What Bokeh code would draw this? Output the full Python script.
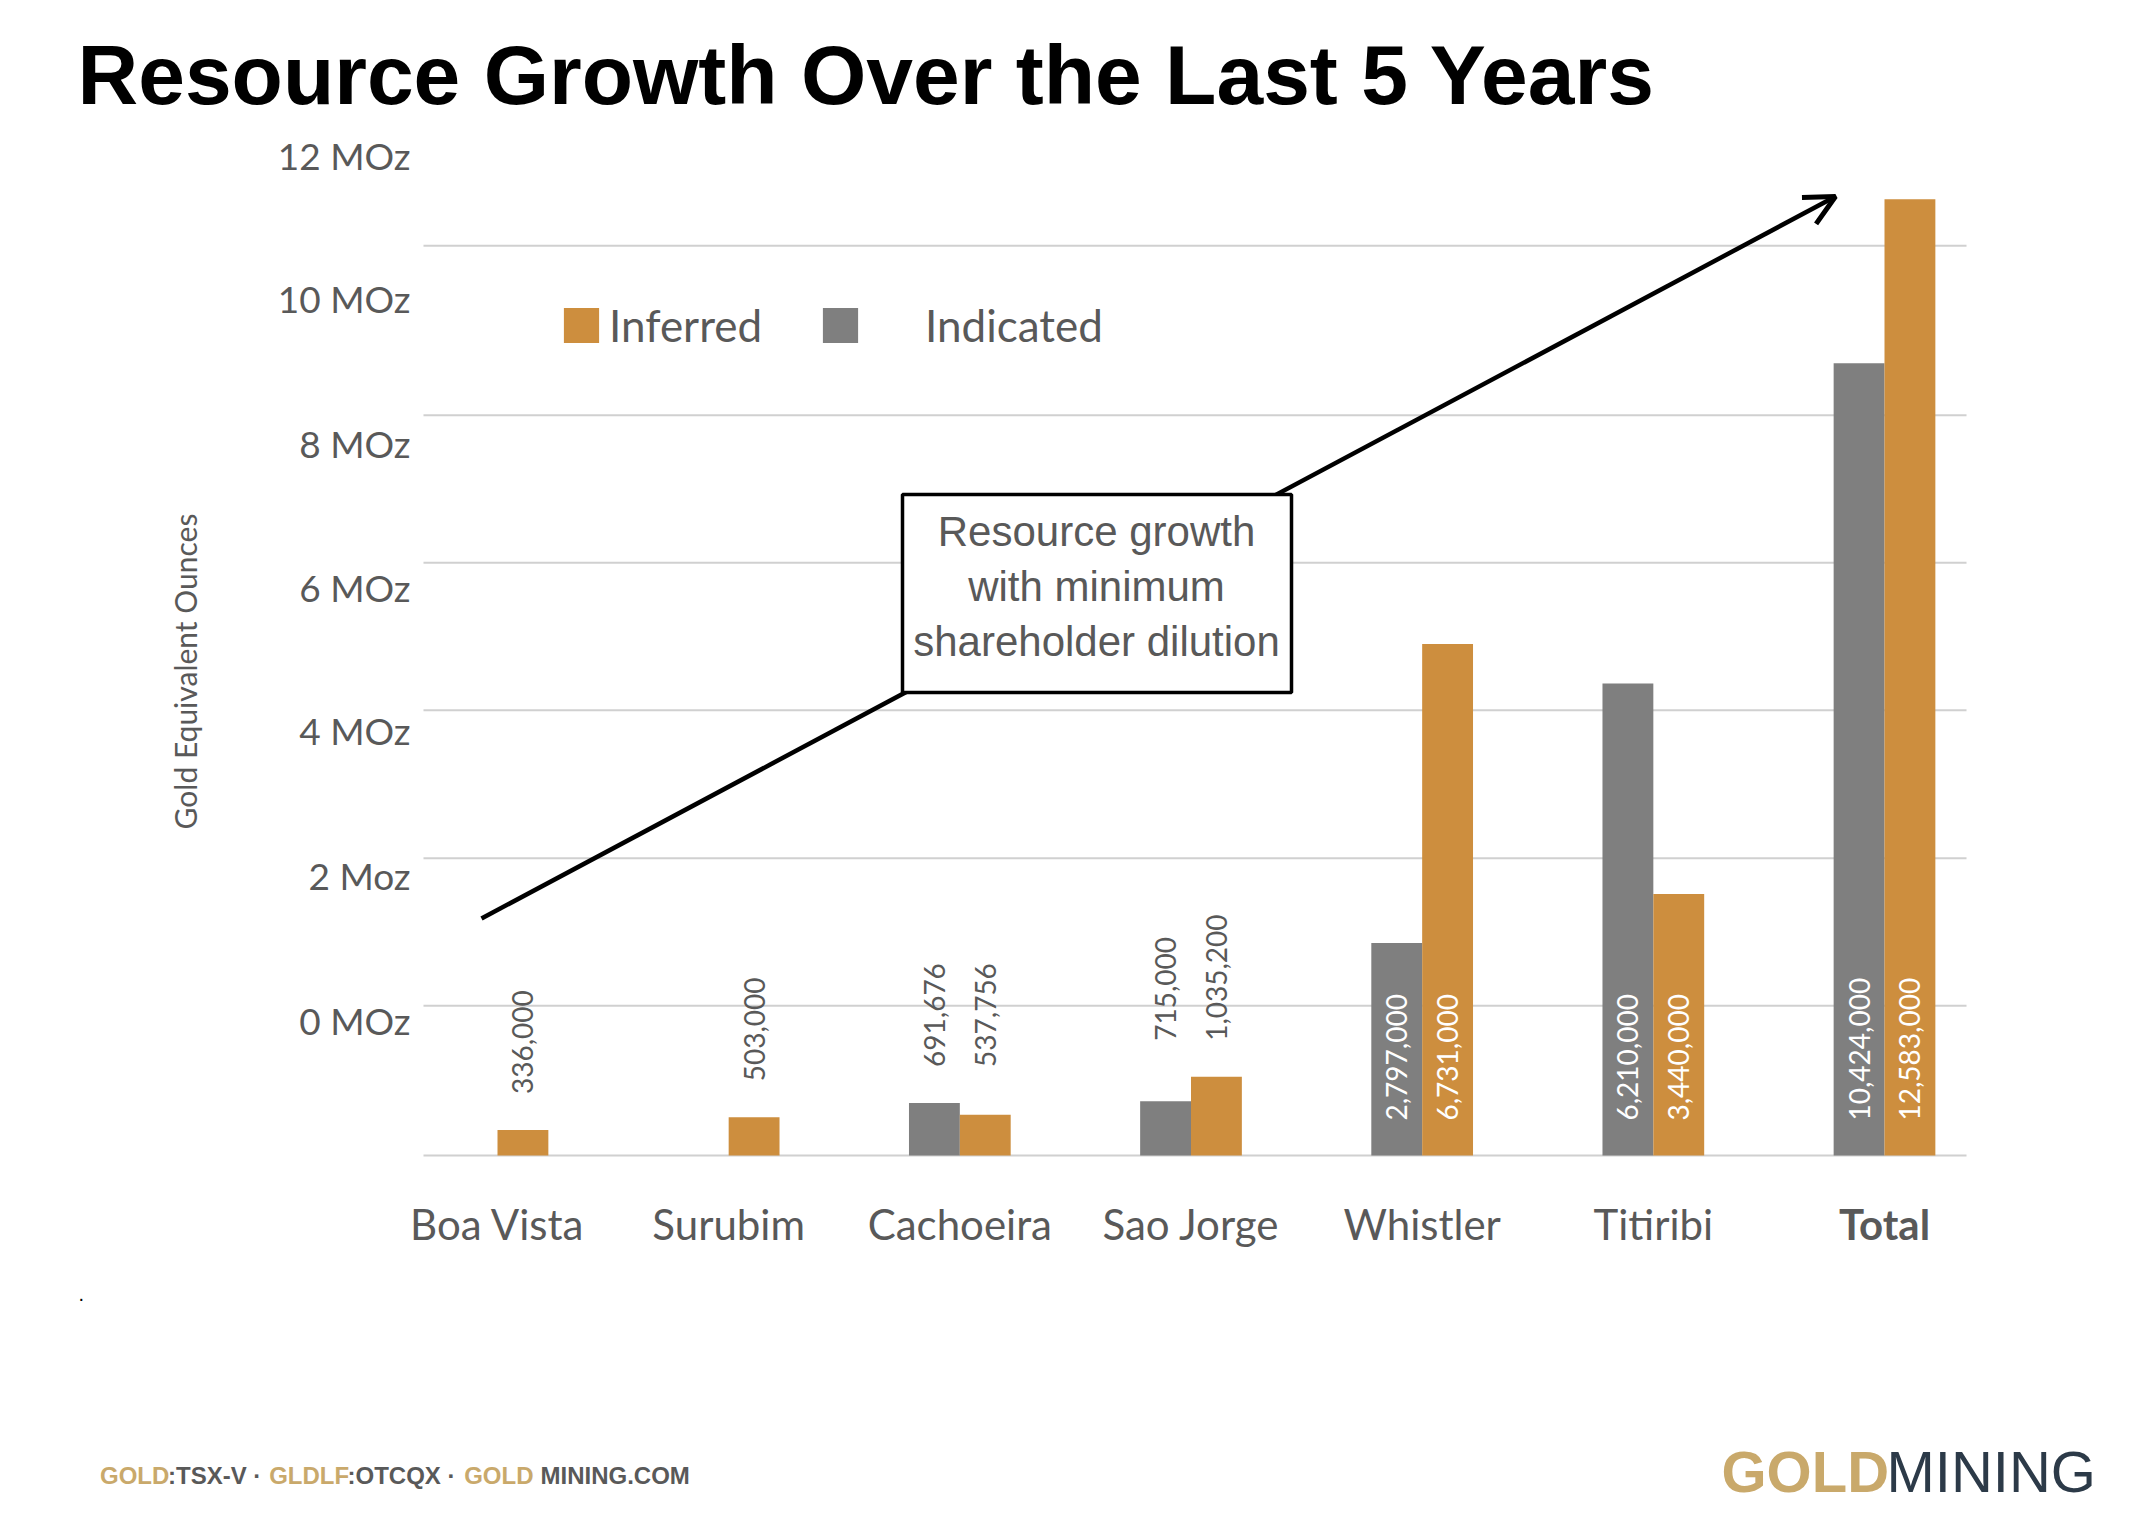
import math
from bokeh.plotting import figure
from bokeh.models import (ColumnDataSource, Range1d, Label, Legend, LegendItem,
                          Arrow, OpenHead, BoxAnnotation)
from bokeh.transform import dodge
from bokeh.core.properties import value
from bokeh.embed import file_html
from bokeh.resources import INLINE

# ---------------- data ----------------
categories = ["Boa Vista", "Surubim", "Cachoeira", "Sao Jorge", "Whistler", "Titiribi", "Total"]
indicated = [0, 0, 691676, 715000, 2797000, 6210000, 10424000]
inferred = [336000, 503000, 537756, 1035200, 6731000, 3440000, 12583000]
series_names = ["Inferred", "Indicated"]
ytick_labels = ["0 MOz", "2 Moz", "4 MOz", "6 MOz", "8 MOz", "10 MOz", "12 MOz"]
ytick_pos = [1.78, 3.68, 5.59, 7.47, 9.37, 11.28, 13.16]      # MOz where the slide places its labels
grid_pos = [0, 1.97, 3.91, 5.86, 7.80, 9.74, 11.97]           # MOz of the slide's gridlines

title_text = "Resource Growth Over the Last 5 Years"
ylabel_text = "Gold Equivalent Ounces"
callout_text = "Resource growth\nwith minimum\nshareholder dilution"

# ---------------- layout / style ----------------
W, H = 2150, 1534
PAGE = 0                   # bokeh's page template has no body margin
BASE_PX = 1155             # page y of the zero line
PX_PER_MOZ = 76.0
FIRST_PX, LAST_PX = 497, 1884   # page x of first / last category centre
UNIT = (LAST_PX - FIRST_PX) / (len(categories) - 1)


def dx(px):   # page x -> data x
    return 0.5 + (px - FIRST_PX) / UNIT


def dy(py):   # page y -> data y (MOz)
    return (BASE_PX - py) / PX_PER_MOZ


def sx(px):   # page x -> screen x from canvas left
    return px - PAGE


def sy(py):   # page y -> screen y from canvas bottom
    return PAGE + H - py


ORANGE = "#CD8E3E"
GRAY = "#7F7F7F"
TXT = "#595959"
GRID = "#D0D0D0"
TAN = "#C9A96B"
NAVY = "#2C3A48"
BAR_W = 0.22
OFF = 0.11
INSIDE_MIN = 2_000_000

p = figure(width=W, height=H,
           x_range=Range1d(dx(PAGE), dx(PAGE + W)),
           y_range=Range1d(dy(PAGE + H), dy(PAGE)),
           x_axis_location=None, y_axis_location=None,
           output_backend="svg", toolbar_location=None, title=None,
           min_border=0)
p.outline_line_color = None
p.background_fill_color = "white"
p.border_fill_color = "white"
p.grid.visible = False

xc = [i + 0.5 for i in range(len(categories))]

# gridlines
p.segment(x0=dx(423), x1=dx(1966), y0=grid_pos, y1=grid_pos,
          line_color=GRID, line_width=2)

# y tick labels
p.text(x=[dx(410)] * len(ytick_pos), y=ytick_pos, text=ytick_labels,
       text_align="right", text_baseline="middle", text_color=TXT,
       text_font=value("Lato"), text_font_size=value("37px"))

# category labels
cat_src = ColumnDataSource(dict(x=xc, y=[dy(1223)] * len(categories), text=categories,
                                style=["bold" if c == "Total" else "normal" for c in categories]))
p.text(x="x", y="y", text="text", source=cat_src, text_font_style="style",
       text_align="center", text_baseline="middle", text_color=TXT,
       text_font=value("Lato"), text_font_size=value("42px"))

# bars
src = ColumnDataSource(dict(xc=xc,
                            ind=[v / 1e6 for v in indicated],
                            inf=[v / 1e6 for v in inferred]))
r_ind = p.vbar(x=dodge("xc", -OFF), top="ind", width=BAR_W,
               source=src, fill_color=GRAY, line_color=None)
r_inf = p.vbar(x=dodge("xc", OFF), top="inf", width=BAR_W,
               source=src, fill_color=ORANGE, line_color=None)

# value labels
group_max = [max(a, b) for a, b in zip(indicated, inferred)]
in_off = 35 / PX_PER_MOZ
out_off = 36 / PX_PER_MOZ


def label_source(vals, off):
    d = dict(x=[], y=[], text=[], color=[])
    for x, v, g in zip(xc, vals, group_max):
        if v <= 0:
            continue
        inside = v >= INSIDE_MIN
        d["x"].append(x + off)
        d["y"].append(in_off if inside else g / 1e6 + out_off)
        d["text"].append(f"{v:,}")
        d["color"].append("white" if inside else TXT)
    return ColumnDataSource(d)


for vals, off in ((indicated, -OFF), (inferred, OFF)):
    p.text(x="x", y="y", text="text", source=label_source(vals, off),
           angle=math.pi / 2, text_align="left", text_baseline="middle",
           text_color="color", text_font=value("Lato"), text_font_size=value("28px"))

# legend (two separate boxes, as on the slide)
leg1 = Legend(items=[LegendItem(label=series_names[0], renderers=[r_inf])],
              location=(sx(559), sy(351)), label_standoff=6)
leg2 = Legend(items=[LegendItem(label=series_names[1], renderers=[r_ind])],
              location=(sx(818), sy(351)), label_standoff=63)
for lg in (leg1, leg2):
    lg.glyph_width = 44
    lg.glyph_height = 44
    lg.padding = 0
    lg.margin = 0
    lg.spacing = 0
    lg.border_line_color = None
    lg.background_fill_alpha = 0
    lg.label_text_font = "Lato"
    lg.label_text_font_size = "44px"
    lg.label_text_color = TXT
    p.add_layout(lg)

# callout arrow + box
p.add_layout(Arrow(end=OpenHead(size=30, line_width=5, line_color="black"),
                   x_start=sx(481), y_start=sy(918), x_end=sx(1835), y_end=sy(196),
                   start_units="screen", end_units="screen",
                   line_width=4.5, line_color="black"))
p.add_layout(BoxAnnotation(left=sx(902), right=sx(1291), bottom=sy(692), top=sy(494),
                           left_units="screen", right_units="screen",
                           top_units="screen", bottom_units="screen",
                           fill_color="white", fill_alpha=1.0,
                           line_color="black", line_alpha=1.0, line_width=3.5))
p.add_layout(Label(x=sx(1096), y=sy(586), x_units="screen", y_units="screen",
                   text=callout_text, text_align="center", text_baseline="middle",
                   text_font="Liberation Sans", text_font_size="42px",
                   text_color=TXT, text_line_height=1.18))

# y axis title
p.add_layout(Label(x=sx(184), y=sy(671), x_units="screen", y_units="screen",
                   text=ylabel_text, angle=math.pi / 2, text_align="center",
                   text_baseline="middle", text_font="Lato", text_font_size="30px",
                   text_color=TXT))

# slide title
p.add_layout(Label(x=sx(77), y=sy(74), x_units="screen", y_units="screen",
                   text=title_text, text_align="left", text_baseline="middle",
                   text_font="Liberation Sans", text_font_style="bold",
                   text_font_size="84px", text_color="black"))

# stray period on the slide
p.add_layout(Label(x=sx(78), y=sy(1293), x_units="screen", y_units="screen", text=".",
                   text_baseline="middle",
                   text_font="Liberation Sans", text_font_size="20px", text_color="black"))

# footer
footer = [("GOLD", TAN, 99.5), (":TSX-V \u00b7", TXT, 167.5), ("GLDLF", TAN, 268.7),
          (":OTCQX \u00b7", TXT, 347), ("GOLD", TAN, 463.7), ("MINING.COM", TXT, 540)]
for t, c, x in footer:
    p.add_layout(Label(x=sx(x), y=sy(1475), x_units="screen", y_units="screen", text=t,
                       text_align="left", text_baseline="middle",
                       text_font="Liberation Sans", text_font_style="bold",
                       text_font_size="24px", text_color=c))

# logo
p.add_layout(Label(x=sx(1721), y=sy(1471), x_units="screen", y_units="screen", text="GOLD",
                   text_align="left", text_baseline="middle",
                   text_font="Liberation Sans", text_font_style="bold",
                   text_font_size="58px", text_color=TAN))
p.add_layout(Label(x=sx(1886), y=sy(1471), x_units="screen", y_units="screen", text="MINING",
                   text_align="left", text_baseline="middle",
                   text_font="Liberation Sans", text_font_size="58px", text_color=NAVY))

open("out.html", "w").write(file_html(p, INLINE))
